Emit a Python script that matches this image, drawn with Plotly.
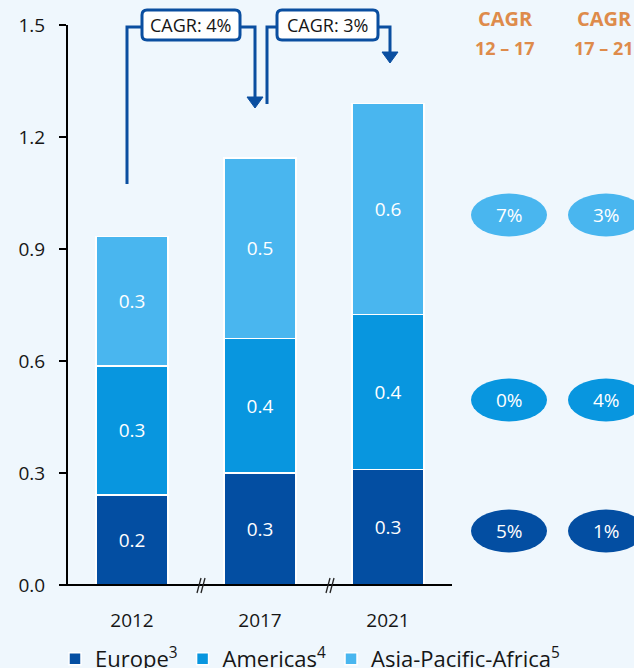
import plotly.graph_objects as go

# ---------------- data ----------------
years = ["2012", "2017", "2021"]
europe = [0.241, 0.30, 0.31]
americas = [0.346, 0.36, 0.415]
apa = [0.346, 0.484, 0.565]
series_names = ["Europe<sup>3</sup>", "Americas<sup>4</sup>", "Asia-Pacific-Africa<sup>5</sup>"]
cagr_12_17 = ["5%", "0%", "7%"]   # Europe, Americas, APA
cagr_17_21 = ["1%", "4%", "3%"]
cagr_total = ["CAGR: 4%", "CAGR: 3%"]
y_ticks = [0.0, 0.3, 0.6, 0.9, 1.2, 1.5]

# ---------------- style ----------------
BG = "#EFF7FD"
C_EU = "#034EA2"
C_AM = "#0896DF"
C_AP = "#49B6EF"
LINE = "#0A4EA0"
ORANGE = "#DE8B4B"
FONT = "Open Sans"
TXT = "#161616"

W, H = 634, 668
L, R, T, B = 68, 182, 25, 83
PW, PH = W - L - R, H - T - B


def X(px):
    return (px - L) / PW


def Y(py):
    return (H - B - py) / PH


fig = go.Figure()
for name, vals, col in zip(series_names, [europe, americas, apa], [C_EU, C_AM, C_AP]):
    fig.add_trace(go.Bar(
        x=years, y=vals, name=name,
        marker=dict(color=col, line=dict(color="white", width=1.5)),
        width=0.5625,
        text=[f"{v:.1f}" for v in vals],
        textposition="inside", insidetextanchor="middle",
        textfont=dict(color="white", size=19, family=FONT),
        hoverinfo="skip",
    ))

totals = [a + b + c for a, b, c in zip(europe, americas, apa)]
annotations = []
for yr, tot in zip(years, totals):
    annotations.append(dict(x=yr, y=tot, xref="x", yref="y", text=f"{tot:.1f}",
                            showarrow=False, yanchor="bottom", yshift=11,
                            font=dict(size=19, color=TXT, family=FONT)))

shapes = []
# x axis line extended to the left of the y axis
shapes.append(dict(type="line", xref="paper", yref="paper", x0=X(61), x1=X(452), y0=0, y1=0,
                   line=dict(color="black", width=2)))
# axis break marks
for bx in [200, 329]:
    for off in [0, 4]:
        shapes.append(dict(type="line", xref="paper", yref="paper",
                           x0=X(bx - 3 + off), y0=Y(593), x1=X(bx + 1 + off), y1=Y(578),
                           line=dict(color="#222", width=1.3)))


def rrect(x0, y0, x1, y1, r=5):
    pts = (f"M{X(x0 + r)},{Y(y0)} L{X(x1 - r)},{Y(y0)} Q{X(x1)},{Y(y0)} {X(x1)},{Y(y0 + r)} "
           f"L{X(x1)},{Y(y1 - r)} Q{X(x1)},{Y(y1)} {X(x1 - r)},{Y(y1)} "
           f"L{X(x0 + r)},{Y(y1)} Q{X(x0)},{Y(y1)} {X(x0)},{Y(y1 - r)} "
           f"L{X(x0)},{Y(y0 + r)} Q{X(x0)},{Y(y0)} {X(x0 + r)},{Y(y0)} Z")
    return pts


def polyline(pts):
    return "M" + " L".join(f"{X(a)},{Y(b)}" for a, b in pts)


brackets = [
    # (start x, start y, box x0, box x1, end x, arrow tip y)
    (127, 184, 142, 240, 255, 108),
    (267, 104, 277, 378, 390, 63),
]
for (sx, sy, b0, b1, ex, tip), label in zip(brackets, cagr_total):
    ly = 27
    shapes.append(dict(type="path", xref="paper", yref="paper",
                       path=polyline([(sx, sy), (sx, ly), (b0, ly)]),
                       line=dict(color=LINE, width=3)))
    shapes.append(dict(type="path", xref="paper", yref="paper",
                       path=polyline([(b1, ly), (ex, ly), (ex, tip - 9)]),
                       line=dict(color=LINE, width=3)))
    shapes.append(dict(type="path", xref="paper", yref="paper",
                       path=polyline([(ex - 8, tip - 11), (ex + 8, tip - 11), (ex, tip)]) + " Z",
                       line=dict(color=LINE, width=1), fillcolor=LINE))
    shapes.append(dict(type="path", xref="paper", yref="paper",
                       path=rrect(b0, 10, b1, 40, 5),
                       line=dict(color=LINE, width=3), fillcolor="white"))
    annotations.append(dict(x=X((b0 + b1) / 2), y=Y(25), xref="paper", yref="paper",
                            xanchor="center", yanchor="middle",
                            text=label, showarrow=False,
                            font=dict(size=18, color=TXT, family=FONT)))

# CAGR headers
for cx, per in [(505, "12 – 17"), (604, "17 – 21")]:
    annotations.append(dict(x=X(cx), y=Y(18), xref="paper", yref="paper", text="<b>CAGR</b>",
                            xanchor="center", yanchor="middle",
                            showarrow=False, font=dict(size=20, color=ORANGE, family=FONT)))
    annotations.append(dict(x=X(cx), y=Y(48), xref="paper", yref="paper", text=f"<b>{per}</b>",
                            xanchor="center", yanchor="middle",
                            showarrow=False, font=dict(size=18, color=ORANGE, family=FONT)))

# CAGR bubbles
bubble_y = [531, 400, 215]
bubble_col = [C_EU, C_AM, C_AP]
for cx, vals in [(509, cagr_12_17), (606, cagr_17_21)]:
    for by, col, v in zip(bubble_y, bubble_col, vals):
        shapes.append(dict(type="circle", xref="paper", yref="paper",
                           x0=X(cx - 38), x1=X(cx + 38), y0=Y(by + 21.5), y1=Y(by - 21.5),
                           line=dict(width=0), fillcolor=col))
        annotations.append(dict(x=X(cx), y=Y(by), xref="paper", yref="paper", text=v,
                                xanchor="center", yanchor="middle",
                                showarrow=False, font=dict(size=19, color="white", family=FONT)))

fig.update_layout(
    width=W, height=H,
    margin=dict(l=L, r=R, t=T, b=B, pad=0, autoexpand=False),
    paper_bgcolor=BG, plot_bgcolor=BG,
    barmode="stack",
    showlegend=True,
    legend=dict(orientation="h", x=X(565), xanchor="right", y=Y(659), yanchor="middle",
                font=dict(size=22, color=TXT, family=FONT), traceorder="normal",
                bgcolor="rgba(0,0,0,0)", itemclick=False),
    font=dict(family=FONT, color=TXT),
    annotations=annotations,
    shapes=shapes,
    xaxis=dict(range=[-0.5, 2.5], showline=False, showgrid=False, zeroline=False,
               ticks="outside", ticklen=18, tickcolor="rgba(0,0,0,0)",
               tickfont=dict(size=19, color=TXT, family=FONT), fixedrange=True),
    yaxis=dict(range=[0, 1.5], tickvals=y_ticks, ticktext=[f"{v:.1f}" for v in y_ticks],
               showline=True, linecolor="black", linewidth=2,
               ticks="outside", ticklen=7, tickwidth=2, tickcolor="black",
               ticklabelstandoff=10,
               showgrid=False, zeroline=False,
               tickfont=dict(size=19, color=TXT, family=FONT), fixedrange=True),
)

fig.write_html("out.html")
